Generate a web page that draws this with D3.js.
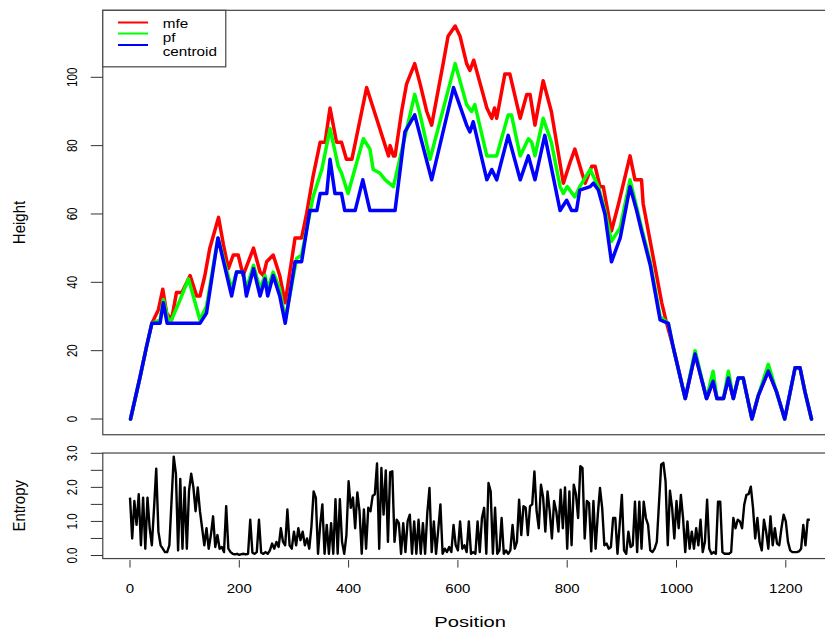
<!DOCTYPE html>
<html><head><meta charset="utf-8">
<script src="https://cdn.jsdelivr.net/npm/d3@7"></script>
<style>
body{margin:0;background:#fff}
svg{display:block}
text{font-family:"Liberation Sans",Arial,Helvetica,sans-serif;fill:#000}
</style>
</head><body>
<svg id="chart" width="825" height="629"></svg>
<script>
// ---------- data ----------
const seriesNames = ["mfe", "pf", "centroid"];
const seriesColors = ["#ff0000", "#00ff00", "#0000ff"];

const mfePos = [1,18,30,40,43,52,60,67,76,85,95,110,122,128,137,146,162,171,180,189,198,207,226,238,244,250,262,274,284,302,314,323,335,348,357,366,378,387,396,406,433,451,467,473,476,482,485,497,506,521,531,543,552,573,582,595,604,616,622,629,653,662,667,671,686,695,714,726,732,741,756,771,793,805,814,827,833,845,851,860,866,881,894,915,924,936,939,973,982,994,1016,1034,1055,1067,1074,1086,1095,1104,1113,1122,1138,1150,1168,1183,1198,1217,1226,1235,1247];
const mfeHeight = [0,12,21,28,29,32,38,31,29,37,37,42,36,36,42,50,59,51,44,48,48,42,50,43,42,46,48,42,34,53,53,60,71,81,81,91,81,81,76,76,97,88,80,77,80,77,77,90,98,104,98,90,86,104,112,115,112,104,102,105,91,88,91,88,101,101,88,95,95,86,99,90,69,75,79,72,69,74,74,68,68,55,63,77,70,70,63,34,28,21,6,19,6,11,6,6,12,6,12,12,0,7,14,8,0,15,15,8,0];

const pfPos = [1,18,30,40,55,61,70,76,92,107,128,140,161,186,195,207,213,226,238,247,252,262,274,284,305,314,335,351,366,381,387,399,427,439,445,457,467,482,521,531,549,595,616,625,631,653,671,692,698,714,729,735,741,756,771,787,793,800,814,823,842,851,857,869,881,897,915,927,936,952,970,985,994,1016,1034,1055,1067,1074,1086,1095,1104,1113,1122,1138,1150,1168,1183,1198,1217,1226,1235,1247];
const pfHeight = [0,12,21,28,29,35,29,29,35,41,29,33,53,38,43,43,38,45,38,42,38,43,38,29,47,48,65,73,85,74,72,66,82,79,73,72,70,68,95,89,76,104,92,90,92,77,77,89,89,77,82,81,77,88,81,68,66,68,65,68,73,70,68,61,52,56,70,62,56,46,30,28,21,6,20,6,14,6,6,14,6,12,12,0,7,16,8,0,15,15,8,0];

const centroidPos = [1,18,30,40,55,61,68,128,140,161,186,195,207,213,226,238,247,252,262,274,284,302,314,329,342,348,360,366,375,387,393,412,426,439,485,503,521,552,592,616,622,628,653,662,671,692,714,729,741,759,787,799,808,817,823,842,848,857,869,881,897,915,927,936,952,970,985,994,1016,1034,1055,1067,1074,1086,1095,1104,1113,1122,1138,1150,1168,1183,1198,1217,1226,1235,1247];
const centroidHeight = [0,12,21,28,28,34,28,28,31,53,36,43,43,36,44,36,41,36,42,36,28,46,46,61,61,66,66,76,66,66,61,61,70,61,61,84,89,70,97,86,84,87,70,73,70,83,70,77,70,83,61,64,61,61,67,68,69,67,60,46,53,68,61,55,45,29,28,21,6,19,6,11,6,6,12,6,12,12,0,7,14,8,0,15,15,8,0];

// entropy, one value every 4 positions starting at position 0
const entropyStep = 4;
const entropyValues = [
1.70,0.50,1.60,0.90,1.80,0.30,1.70,0.20,1.70,0.80,
0.30,1.40,2.55,0.70,0.30,0.20,0.10,0.10,0.30,1.60,
2.90,2.40,0.15,2.25,0.20,2.00,0.20,1.90,2.40,2.00,
1.30,2.00,1.30,0.80,0.30,0.80,0.20,0.60,1.15,0.25,
0.60,0.20,0.25,0.10,1.45,0.20,0.10,0.05,0.03,0.05,
0.02,0.04,0.05,0.03,0.05,1.05,0.08,0.05,0.10,1.05,
0.08,0.05,0.10,0.05,0.15,0.35,0.20,0.40,0.25,0.80,
0.40,0.30,1.35,0.30,0.20,0.70,0.30,0.80,0.45,0.70,
0.30,0.50,0.20,0.85,1.88,1.70,0.05,0.90,1.50,0.05,
0.90,0.05,0.95,0.05,1.65,0.05,1.65,0.40,0.05,0.60,
2.18,1.40,1.70,0.80,1.85,1.30,0.05,1.35,0.20,1.40,
1.30,1.75,1.80,2.70,0.20,2.57,1.20,2.50,0.40,2.45,
2.47,0.40,1.05,0.95,0.05,0.95,0.10,1.00,1.20,0.05,
1.00,0.05,1.05,0.05,0.95,0.05,1.25,1.98,0.10,1.00,
0.05,0.75,1.50,0.05,0.20,0.10,0.25,0.10,0.90,0.30,
0.15,1.00,0.20,0.30,0.10,1.00,0.05,0.10,0.05,1.00,
0.10,1.10,1.40,0.05,2.13,1.88,0.05,1.40,0.05,0.15,
1.10,0.05,0.15,0.05,0.15,0.90,0.20,0.40,1.64,0.60,
1.45,1.40,0.60,1.45,1.50,2.47,1.30,0.80,2.08,1.70,
0.70,1.88,1.30,0.50,1.60,1.30,0.70,1.93,0.80,2.00,
0.20,1.88,0.30,2.08,1.80,1.10,2.62,2.57,0.50,1.60,
1.54,0.12,1.60,0.20,1.20,1.98,1.40,0.30,0.35,0.20,
0.25,1.10,1.10,0.05,0.90,1.78,0.15,0.05,0.70,0.25,
0.30,1.58,0.10,1.58,0.20,1.58,1.10,0.90,0.15,0.10,
0.20,0.40,1.54,2.67,2.72,2.18,0.30,1.90,1.40,0.50,
1.60,0.80,1.78,1.10,0.10,1.00,0.20,0.70,0.20,0.80,
0.30,1.05,0.10,0.40,1.64,0.20,0.05,0.10,0.05,1.58,
1.58,0.10,0.05,0.05,0.05,0.10,1.10,0.80,1.05,1.00,
0.80,1.50,1.78,1.80,2.02,1.40,0.50,1.10,0.40,0.15,
1.05,0.70,0.20,1.15,0.30,0.80,0.35,0.30,0.80,1.20,
1.00,0.40,0.15,0.10,0.10,0.10,0.12,0.20,0.90,0.30,1.05,1.05];

const xTicks = [0,200,400,600,800,1000,1200];
const heightTicks = [0,20,40,60,80,100];
const entropyTicks = [0,0.5,1,1.5,2,2.5,3];
const entropyLabels = [0,1,2,3];

// ---------- layout ----------
const svg = d3.select("#chart");
const x = d3.scaleLinear().domain([0,1200]).range([130,785.8]);
const yH = d3.scaleLinear().domain([0,100]).range([419,77.3]);
const yE = d3.scaleLinear().domain([0,3]).range([555.5,453.3]);

const xLeft = x(-49.8), xRight = x(1294.8);
const topY0 = yH(119.6), topY1 = yH(-4.6);
const botY0 = yE(3.008), botY1 = yE(-0.09);

function hText(g, str, xx, yy, size, factor, anchor){
  const t = g.append("text").attr("x", xx).attr("y", yy)
    .attr("font-size", size).attr("text-anchor", anchor || "middle").text(str);
  const w = t.node().getComputedTextLength();
  t.attr("textLength", w*factor).attr("lengthAdjust","spacingAndGlyphs");
  return t;
}
function vText(g, str, xx, yy, size, sx){
  return g.append("text").attr("transform",`translate(${xx},${yy}) scale(${sx},1) rotate(-90)`)
    .attr("font-size", size).attr("text-anchor","middle").text(str);
}

// ---------- top panel ----------
const series = [
  {name: seriesNames[0], color: seriesColors[0], pos: mfePos, h: mfeHeight},
  {name: seriesNames[1], color: seriesColors[1], pos: pfPos, h: pfHeight},
  {name: seriesNames[2], color: seriesColors[2], pos: centroidPos, h: centroidHeight}
];
const line = d3.line().x(d=>x(d[0])).y(d=>yH(d[1]));
series.forEach(s=>{
  svg.append("path").datum(s.pos.map((p,i)=>[p, s.h[i]]))
    .attr("d", line).attr("fill","none").attr("stroke", s.color)
    .attr("stroke-width", 3.5).attr("stroke-linejoin","round").attr("stroke-linecap","round");
});

svg.append("rect").attr("x", xLeft).attr("y", topY0)
  .attr("width", xRight-xLeft).attr("height", topY1-topY0)
  .attr("fill","none").attr("stroke","#444").attr("stroke-width",1.2);

// y axis top
const gyt = svg.append("g");
heightTicks.forEach(t=>{
  gyt.append("line").attr("x1", xLeft-12).attr("x2", xLeft).attr("y1", yH(t)).attr("y2", yH(t))
    .attr("stroke","#333").attr("stroke-width",1);
  vText(gyt, String(t), 77.3, yH(t), 11.5, 1.3);
});
vText(svg, "Height", 25, (topY0+topY1)/2, 15, 1.1);

// legend
const lg = svg.append("g");
lg.append("rect").attr("x", xLeft).attr("y", topY0).attr("width", 123).attr("height", 56.5)
  .attr("fill","#fff").attr("stroke","#444").attr("stroke-width",1.2);
const legLineY = [22.5, 33.5, 45];
const legTextY = [28, 42, 56.3];
series.forEach((s,i)=>{
  lg.append("line").attr("x1", 118).attr("x2", 148).attr("y1", legLineY[i]).attr("y2", legLineY[i])
    .attr("stroke", s.color).attr("stroke-width", 2);
  hText(lg, s.name, 162.7, legTextY[i], 12.5, 1.22, "start");
});

// ---------- bottom panel ----------
const eLine = d3.line().x((d,i)=>x(i*entropyStep)).y(d=>yE(d));
svg.append("path").datum(entropyValues).attr("d", eLine)
  .attr("fill","none").attr("stroke","#000").attr("stroke-width",2.4)
  .attr("stroke-linejoin","round");

svg.append("rect").attr("x", xLeft).attr("y", botY0)
  .attr("width", xRight-xLeft).attr("height", botY1-botY0)
  .attr("fill","none").attr("stroke","#444").attr("stroke-width",1.2);

const gyb = svg.append("g");
entropyTicks.forEach(t=>{
  gyb.append("line").attr("x1", xLeft-12).attr("x2", xLeft).attr("y1", yE(t)).attr("y2", yE(t))
    .attr("stroke","#333").attr("stroke-width",1);
});
entropyLabels.forEach(t=>{
  vText(gyb, d3.format(".1f")(t), 77.3, yE(t), 11.5, 1.3);
});
vText(svg, "Entropy", 25, (botY0+botY1)/2, 15, 1.1);

// x axis
const gx = svg.append("g");
xTicks.forEach(t=>{
  gx.append("line").attr("x1", x(t)).attr("x2", x(t)).attr("y1", botY1+1.5).attr("y2", botY1+9)
    .attr("stroke","#333").attr("stroke-width",1);
  hText(gx, String(t), x(t), 593.3, 12.5, 1.2);
});
hText(svg, "Position", (xLeft+xRight)/2, 626.5, 14.5, 1.39);
</script>
</body></html>
